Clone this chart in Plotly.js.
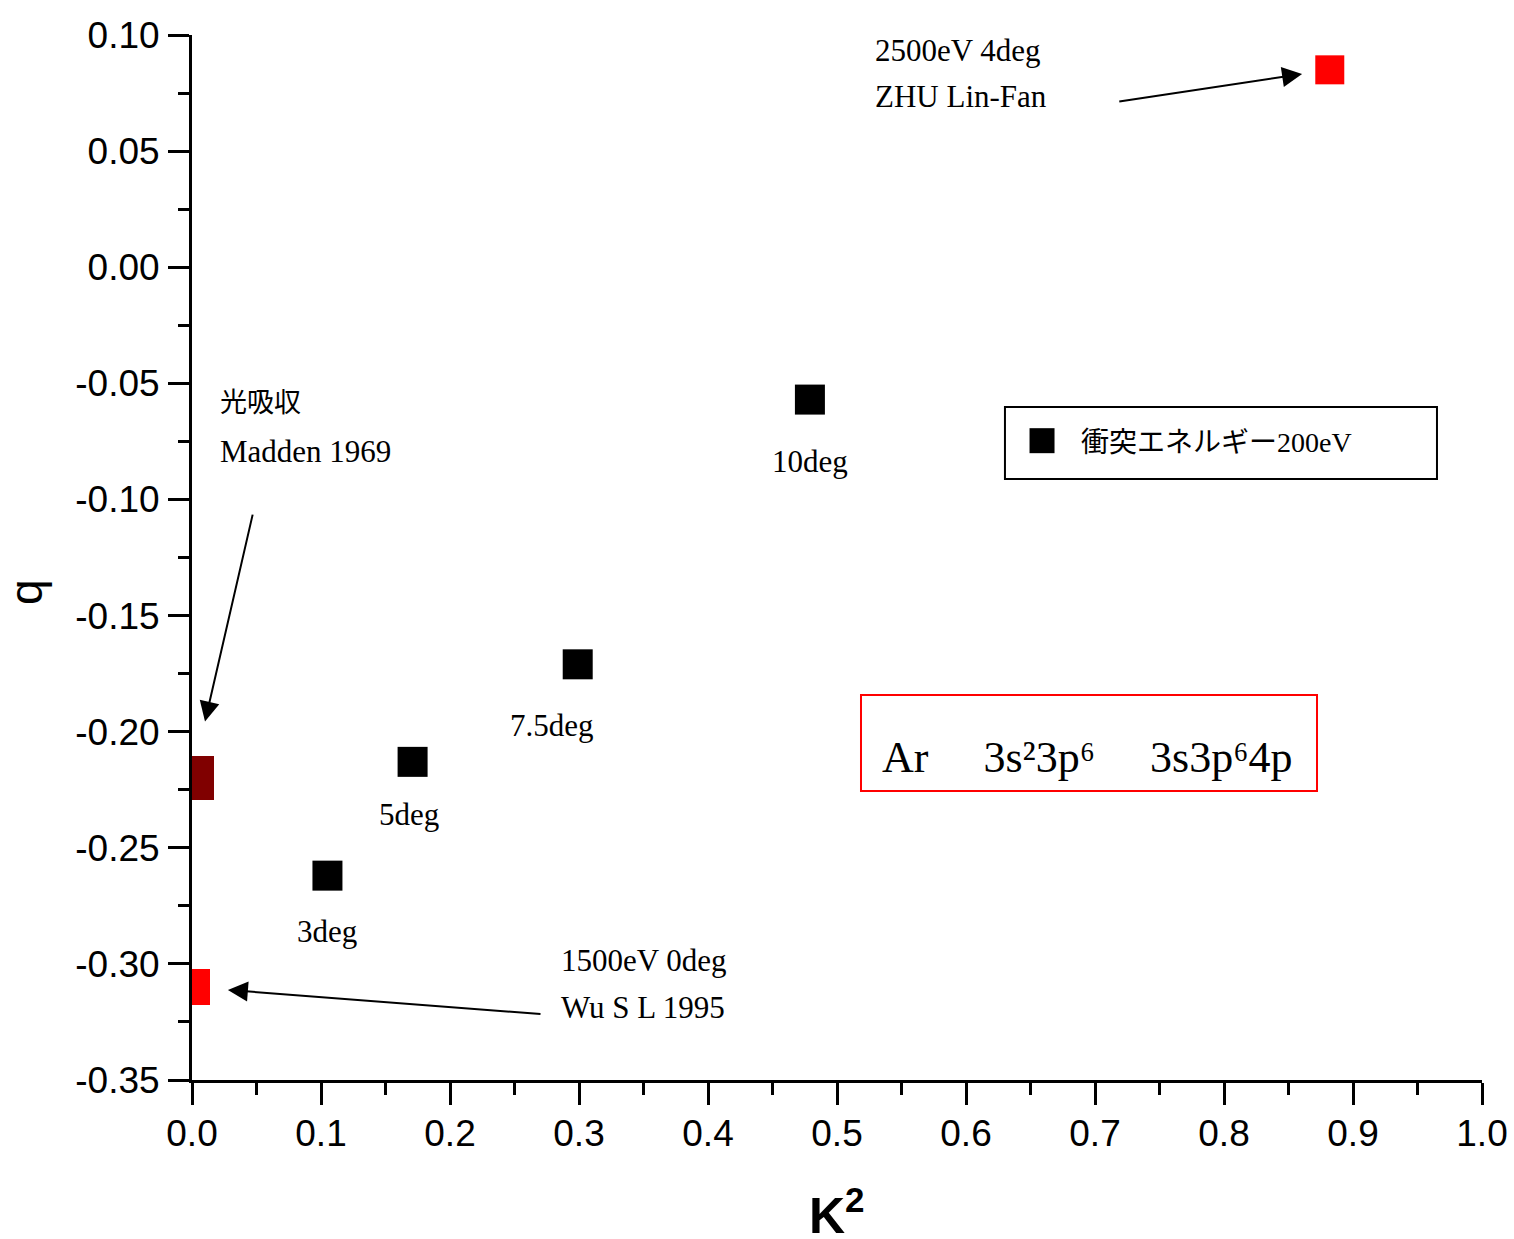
<!DOCTYPE html>
<html><head><meta charset="utf-8">
<script src="https://cdn.plot.ly/plotly-3.0.1.min.js"></script>
<style>html,body{margin:0;padding:0;background:#fff}</style>
</head><body><div id="chart" style="width:1514px;height:1239px"></div>
<script>
// ---- data ----
const kSq200 = [0.105, 0.171, 0.299, 0.479];
const q200 = [-0.262, -0.213, -0.171, -0.057];
const angleLabels200 = ['3deg', '5deg', '7.5deg', '10deg'];
const seriesName200 = '衝突エネルギー200eV';

const kSqMadden = [0.0];
const qMadden = [-0.220];
const kSqWu = [0.0];
const qWu = [-0.310];
const kSqZhu = [0.882];
const qZhu = [0.085];

const maddenLines = ['光吸収', 'Madden 1969'];
const wuLines = ['1500eV 0deg', 'Wu S L 1995'];
const zhuLines = ['2500eV 4deg', 'ZHU Lin-Fan'];
const stateText = 'Ar\u00a0\u00a0\u00a0\u00a0 3s\u00b23p\u2076\u00a0\u00a0\u00a0\u00a0 3s3p\u20764p';
const xTitle = '<b>K<sup>2</sup></b>';
const yTitle = 'q';

const xTickVals = [0, 0.1, 0.2, 0.3, 0.4, 0.5, 0.6, 0.7, 0.8, 0.9, 1.0];
const xTickText = ['0.0', '0.1', '0.2', '0.3', '0.4', '0.5', '0.6', '0.7', '0.8', '0.9', '1.0'];
const yTickVals = [-0.35, -0.30, -0.25, -0.20, -0.15, -0.10, -0.05, 0.00, 0.05, 0.10];
const yTickText = ['-0.35', '-0.30', '-0.25', '-0.20', '-0.15', '-0.10', '-0.05', '0.00', '0.05', '0.10'];

// ---- styles ----
const serif = 'Liberation Serif, Times New Roman, serif';
const sans = 'Liberation Sans, Arial, sans-serif';
const labelShiftX = [0, -4, -26, 0];
const labelShiftY = [-56, -53, -61, -62];

const traces = [
  { x: kSq200, y: q200, type: 'scatter', mode: 'markers', name: seriesName200,
    marker: { symbol: 'square', size: 30, color: '#000000' }, showlegend: true },
  { x: kSqMadden, y: qMadden, type: 'scatter', mode: 'markers', name: 'Madden',
    marker: { symbol: 'square', size: 44, color: '#800000' }, showlegend: false },
  { x: kSqWu, y: qWu, type: 'scatter', mode: 'markers', name: 'Wu',
    marker: { symbol: 'square', size: 36, color: '#ff0000' }, showlegend: false },
  { x: kSqZhu, y: qZhu, type: 'scatter', mode: 'markers', name: 'ZHU',
    marker: { symbol: 'square', size: 29, color: '#ff0000' }, showlegend: false }
];

const annFont = { family: serif, size: 31, color: '#000' };
const annotations = [];
angleLabels200.forEach((t, i) => {
  annotations.push({ x: kSq200[i], y: q200[i], xref: 'x', yref: 'y', text: t, showarrow: false,
    xshift: labelShiftX[i], yshift: labelShiftY[i], font: annFont });
});
// arrows
const arrowStyle = { showarrow: true, arrowhead: 2, arrowsize: 2, arrowwidth: 2, arrowcolor: '#000', text: '' };
annotations.push(Object.assign({ x: kSqZhu[0], y: qZhu[0], xref: 'x', yref: 'y', ax: -212, ay: 32, standoff: 28 }, arrowStyle));
annotations.push(Object.assign({ x: kSqMadden[0], y: qMadden[0], xref: 'x', yref: 'y', ax: 61, ay: -265, standoff: 58 }, arrowStyle));
annotations.push(Object.assign({ x: kSqWu[0], y: qWu[0], xref: 'x', yref: 'y', ax: 350, ay: 27, standoff: 36 }, arrowStyle));
// note texts
function note(text, x, y, fam, size) {
  annotations.push({ xref: 'paper', yref: 'paper', x: x, y: y, xanchor: 'left', yanchor: 'middle',
    text: text, showarrow: false, font: { family: fam || serif, size: size || 31, color: '#000' } });
}
note(zhuLines[0], 0.5277, 0.9856);
note(zhuLines[1], 0.5277, 0.9407);
note(maddenLines[0], 0.0202, 0.6498, 'Noto Sans CJK JP', 27);
note(maddenLines[1], 0.0202, 0.6019);
note(wuLines[0], 0.2845, 0.1139);
note(wuLines[1], 0.2845, 0.0689);
// state box text
annotations.push({ xref: 'paper', yref: 'paper', x: 0.6938, y: 0.309, xanchor: 'center', yanchor: 'middle',
  text: stateText, showarrow: false, font: { family: serif, size: 44, color: '#000' } });
// axis titles (placed as text at the reference positions; plotly keeps titles inside margins)
annotations.push({ xref: 'paper', yref: 'paper', x: -0.1287, y: 0.467, xanchor: 'center', yanchor: 'middle',
  text: yTitle, textangle: -90, showarrow: false, font: { family: sans, size: 46, color: '#000' } });
annotations.push({ xref: 'paper', yref: 'paper', x: 0.5, y: -0.1263, xanchor: 'center', yanchor: 'middle',
  text: xTitle, showarrow: false, font: { family: sans, size: 50, color: '#000' } });

const shapes = [
  { type: 'rect', xref: 'paper', yref: 'paper', x0: 0.6302, x1: 0.9651, y0: 0.5751, y1: 0.6440,
    line: { color: '#000', width: 2 }, fillcolor: 'rgba(0,0,0,0)' },
  { type: 'rect', xref: 'paper', yref: 'paper', x0: 0.5186, x1: 0.8721, y0: 0.2766, y1: 0.3684,
    line: { color: '#ff0000', width: 2 }, fillcolor: 'rgba(0,0,0,0)' }
];

const layout = {
  width: 1514, height: 1239,
  margin: { l: 192, r: 32, t: 35, b: 159, pad: 0 },
  paper_bgcolor: '#fff', plot_bgcolor: '#fff',
  showlegend: true,
  legend: { x: 0.6287, y: 0.6115, xanchor: 'left', yanchor: 'middle', bgcolor: 'rgba(0,0,0,0)',
    borderwidth: 0, itemwidth: 68, font: { family: serif + ', Noto Sans CJK JP', size: 28, color: '#000' }, itemsizing: 'trace' },
  xaxis: {
    range: [0, 1], showgrid: false, zeroline: false, showline: true, linecolor: '#000', linewidth: 3,
    ticks: 'outside', ticklen: 22, tickwidth: 3, tickcolor: '#000',
    tickmode: 'array', tickvals: xTickVals, ticktext: xTickText,
    tickfont: { family: sans, size: 37, color: '#000' }, ticklabelstandoff: -3,
    minor: { tickmode: 'linear', tick0: 0, dtick: 0.05, ticks: 'outside', ticklen: 12, tickwidth: 3, tickcolor: '#000', showgrid: false }
  },
  yaxis: {
    range: [-0.35, 0.10], showgrid: false, zeroline: false, showline: true, linecolor: '#000', linewidth: 3,
    ticks: 'outside', ticklen: 21, tickwidth: 3, tickcolor: '#000',
    tickmode: 'array', tickvals: yTickVals, ticktext: yTickText,
    tickfont: { family: sans, size: 37, color: '#000' }, ticklabelstandoff: 1,
    minor: { tickmode: 'linear', tick0: 0, dtick: 0.025, ticks: 'outside', ticklen: 11, tickwidth: 3, tickcolor: '#000', showgrid: false }
  },
  annotations: annotations,
  shapes: shapes
};

Plotly.newPlot('chart', traces, layout, { displayModeBar: false, staticPlot: true }).then(() => {
  // enlarge the legend symbol to match the reference legend square
  document.querySelectorAll('.legend .legendpoints path.scatterpts').forEach(p => {
    p.setAttribute('d', 'M12.5,12.5H-12.5V-12.5H12.5Z');
  });
});
</script>
</body></html>
